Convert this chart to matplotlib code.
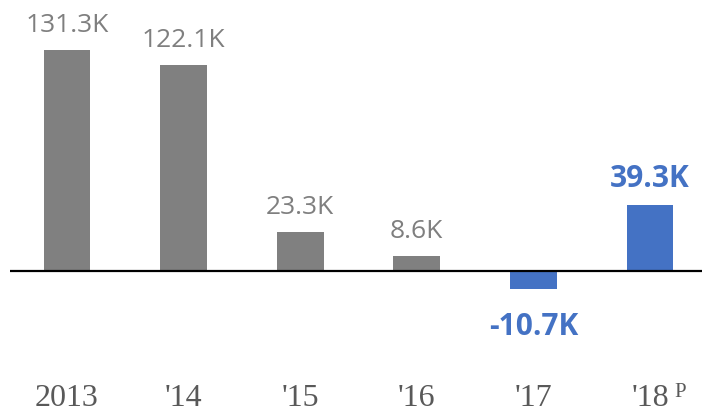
import matplotlib.pyplot as plt
import numpy as np

years = ['2013', "'14", "'15", "'16", "'17", "'18"]
values = [131.3, 122.1, 23.3, 8.6, -10.7, 39.3]
labels = ['131.3K', '122.1K', '23.3K', '8.6K', '-10.7K', '39.3K']
highlight = [False, False, False, False, True, True]

gray = '#808080'
blue = '#4472C4'


def main():
    fig = plt.figure(figsize=(7.02, 4.13), dpi=100)
    ax = fig.add_axes([10 / 702, 0, 692 / 702, 1])
    ax.set_xlim(-0.489, 5.446)
    ax.set_ylim(-84.4, 161.0)
    ax.axis('off')

    x = np.arange(len(values))
    colors = [blue if h else gray for h in highlight]
    ax.bar(x, values, width=0.40, color=colors, zorder=2)
    ax.axhline(0, color='black', lw=1.6, zorder=3)

    for xi, v, lab, h in zip(x, values, labels, highlight):
        off = 13 if v >= 0 else -33
        ax.annotate(lab, (xi, v), xytext=(0, off), textcoords='offset points',
                    ha='center', va='baseline', fontsize=21.5 if h else 19,
                    family='Open Sans', fontweight='bold' if h else 'normal',
                    color=blue if h else '#7F7F7F')

    ticks = []
    for xi, yr in zip(x, years):
        t = ax.text(xi, -(406 - 271) / 1.683, yr, ha='center', va='baseline',
                    fontsize=23, family='Liberation Serif', color='#595959')
        ticks.append(t)
    ax.annotate('P', xy=(1, 1), xycoords=ticks[-1], xytext=(4, 1),
                textcoords='offset points', ha='left', va='top',
                fontsize=15, family='Liberation Serif', color='#595959')

    plt.savefig('out.png', dpi=100)


main()
